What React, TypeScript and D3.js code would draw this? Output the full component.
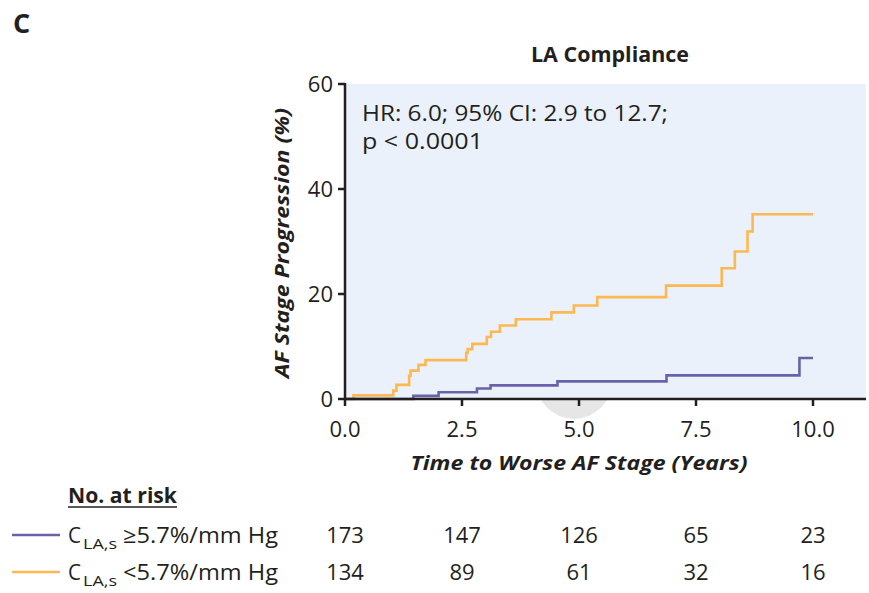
import React from "react";
import * as d3 from "d3";

const xTicks = [0, 2.5, 5, 7.5, 10];
const yTicks = [0, 20, 40, 60];

const highT = [0, 1.46, 2.0, 2.82, 3.11, 4.54, 6.87, 9.71, 10.0];
const highV = [0, 0.6, 1.3, 2.0, 2.6, 3.35, 4.5, 7.8, 7.8];

const lowT = [0, 0.18, 1.03, 1.1, 1.37, 1.4, 1.57, 1.72, 2.59, 2.62, 2.72, 3.03, 3.12, 3.31, 3.65, 4.41, 4.89, 5.39, 6.86, 8.05, 8.33, 8.6, 8.71, 10.0];
const lowV = [0, 0.7, 1.6, 2.7, 4.4, 5.4, 6.5, 7.4, 8.8, 9.5, 10.5, 11.8, 12.8, 14.0, 15.2, 16.5, 17.8, 19.4, 21.6, 24.9, 28.1, 31.9, 35.2, 35.2];

const riskHigh = [173, 147, 126, 65, 23];
const riskLow = [134, 89, 61, 32, 16];

const groups = [
  { sym: "≥5.7%/mm Hg", color: "#6a62a9", risk: riskHigh },
  { sym: "<5.7%/mm Hg", color: "#fdb851", risk: riskLow },
];

const FONT = "'Open Sans', 'Noto Sans', sans-serif";
const INK = "#231f20";

export default function App() {
  const x = d3.scaleLinear().domain([0, 10]).range([345, 813]);
  const y = d3.scaleLinear().domain([0, 60]).range([399, 84]);
  const line = d3
    .line<[number, number]>()
    .x((d) => x(d[0]))
    .y((d) => y(d[1]))
    .curve(d3.curveStepAfter);
  const lowPath = line(lowT.map((t, i) => [t, lowV[i]]) as [number, number][]) || "";
  const highPath = line(highT.map((t, i) => [t, highV[i]]) as [number, number][]) || "";

  const rowY = [543, 580];

  return (
    <svg
      width={869}
      height={593}
      style={{ position: "absolute", left: 0, top: 0, background: "#fff" }}
      fontFamily={FONT}
    >
      <text x={13} y={33} fontSize={27} fontWeight={700} fill={INK}>C</text>
      <text x={610} y={62} fontSize={22} fontWeight={700} fill={INK} textAnchor="middle"
        textLength={158} lengthAdjust="spacingAndGlyphs">LA Compliance</text>

      <circle cx={574} cy={381} r={38} fill="#e6e6e6" />
      <rect x={x(0)} y={y(60)} width={866 - x(0)} height={y(0) - y(60)} fill="#eaf1fa" />

      <text x={362} y={121} fontSize={21} fill={INK} textLength={306} lengthAdjust="spacingAndGlyphs">
        HR: 6.0; 95% CI: 2.9 to 12.7;
      </text>
      <text x={362} y={149} fontSize={21} fill={INK} textLength={121} lengthAdjust="spacingAndGlyphs">
        p &lt; 0.0001
      </text>

      <path d={lowPath} fill="none" stroke="#fdb851" strokeWidth={2.6} />
      <path d={highPath} fill="none" stroke="#6a62a9" strokeWidth={2.6} />

      {/* axes */}
      <line x1={x(0)} x2={x(0)} y1={y(60) - 1} y2={y(0)} stroke={INK} strokeWidth={2.5} />
      <line x1={x(0) - 1} x2={866} y1={y(0)} y2={y(0)} stroke={INK} strokeWidth={2.5} />
      {yTicks.map((t) => (
        <g key={"y" + t}>
          <line x1={x(0) - 7} x2={x(0)} y1={y(t)} y2={y(t)} stroke={INK} strokeWidth={2.5} />
          <text x={x(0) - 12} y={y(t) + 8} fontSize={22} fill={INK} textAnchor="end">{t}</text>
        </g>
      ))}
      {xTicks.map((t) => (
        <g key={"x" + t}>
          <line x1={x(t)} x2={x(t)} y1={y(0)} y2={y(0) + 7} stroke={INK} strokeWidth={2.5} />
          <text x={x(t)} y={437} fontSize={22} fill={INK} textAnchor="middle">{t.toFixed(1)}</text>
        </g>
      ))}
      <text x={579} y={470} fontSize={20} fontWeight={700} fontStyle="italic" fill={INK}
        textAnchor="middle" textLength={337} lengthAdjust="spacingAndGlyphs">
        Time to Worse AF Stage (Years)
      </text>
      <text transform="translate(289,243) rotate(-90)" fontSize={20} fontWeight={700} fontStyle="italic"
        fill={INK} textAnchor="middle" textLength={270} lengthAdjust="spacingAndGlyphs">
        AF Stage Progression (%)
      </text>

      {/* risk table */}
      <text x={68} y={503} fontSize={22} fontWeight={700} fill={INK} textLength={109}
        lengthAdjust="spacingAndGlyphs">No. at risk</text>
      <line x1={68} x2={177} y1={507} y2={507} stroke={INK} strokeWidth={1.6} />
      {groups.map((g, i) => (
        <g key={g.sym}>
          <line x1={12} x2={60} y1={rowY[i] - 8} y2={rowY[i] - 8} stroke={g.color} strokeWidth={2.5} />
          <text x={68} y={rowY[i]} fontSize={22} fill={INK} textLength={13} lengthAdjust="spacingAndGlyphs">C</text>
          <text x={83} y={rowY[i] + 6} fontSize={15} fill={INK} textLength={34} lengthAdjust="spacingAndGlyphs">LA,s</text>
          <text x={123} y={rowY[i]} fontSize={22} fill={INK} textLength={155} lengthAdjust="spacingAndGlyphs">{g.sym}</text>
          {g.risk.map((r, j) => (
            <text key={j} x={x(xTicks[j])} y={rowY[i]} fontSize={22} fill={INK} textAnchor="middle">{r}</text>
          ))}
        </g>
      ))}
    </svg>
  );
}
